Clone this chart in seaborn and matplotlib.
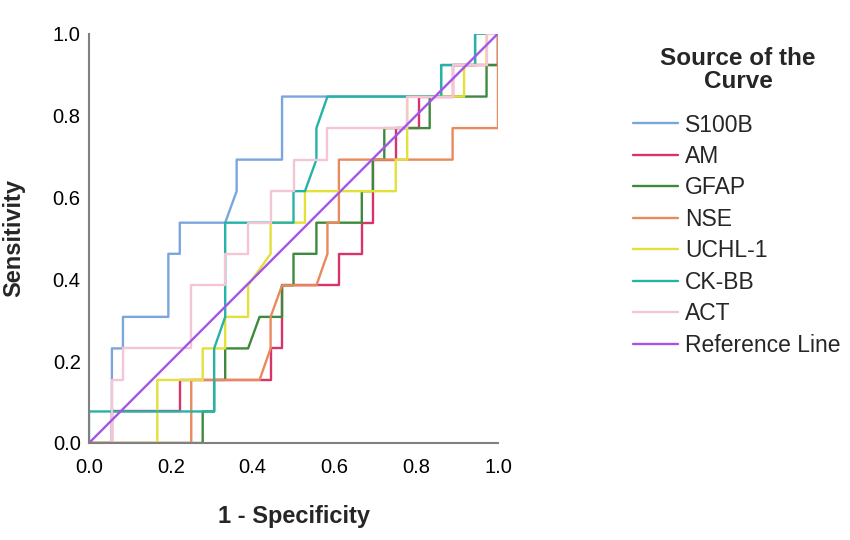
import numpy as np
import pandas as pd
import seaborn as sns
import matplotlib
matplotlib.use("Agg")
import matplotlib.pyplot as plt
from matplotlib.lines import Line2D

# ---- data (1 - specificity, sensitivity) ----
s100b_x = [0, .056, .056, .083, .083, .194, .194, .222, .222, .333, .361, .361, .472, .472, .861, .861, .944, .944, 1]
s100b_y = [0, 0, .231, .231, .308, .308, .462, .462, .538, .538, .615, .692, .692, .846, .846, .923, .923, 1, 1]

am_x = [0, .056, .056, .222, .222, .444, .444, .472, .472, .611, .611, .667, .667, .694, .694, .75, .75, .806, .806, .889, .889, 1, 1]
am_y = [0, 0, .077, .077, .154, .154, .231, .231, .385, .385, .462, .462, .538, .538, .692, .692, .769, .769, .846, .846, .923, .923, 1]

gfap_x = [0, .278, .278, .306, .306, .333, .333, .389, .417, .472, .472, .5, .5, .556, .556, .667, .667, .694, .694, .722, .722, .833, .833, .972, .972, 1, 1]
gfap_y = [0, 0, .077, .077, .154, .154, .231, .231, .308, .308, .385, .385, .462, .462, .538, .538, .615, .615, .692, .692, .769, .769, .846, .846, .923, .923, 1]

nse_x = [0, .25, .25, .417, .444, .444, .472, .556, .583, .583, .611, .611, .889, .889, 1, 1]
nse_y = [0, 0, .154, .154, .231, .308, .385, .385, .462, .538, .538, .692, .692, .769, .769, 1]

uchl_x = [0, .167, .167, .278, .278, .333, .333, .389, .389, .444, .444, .528, .528, .75, .75, .778, .778, .917, .917, .972, .972, 1]
uchl_y = [0, 0, .154, .154, .231, .231, .308, .308, .385, .462, .538, .538, .615, .615, .692, .692, .846, .846, .923, .923, 1, 1]

ckbb_x = [0, 0, .306, .306, .333, .333, .5, .5, .528, .556, .556, .583, .861, .861, .944, .944, 1]
ckbb_y = [0, .077, .077, .231, .308, .538, .538, .615, .615, .692, .769, .846, .846, .923, .923, 1, 1]

act_x = [0, .056, .056, .083, .083, .25, .25, .333, .333, .389, .389, .444, .444, .5, .5, .583, .583, .778, .778, .889, .889, .972, .972, 1]
act_y = [0, 0, .154, .154, .231, .231, .385, .385, .462, .462, .538, .538, .615, .615, .692, .692, .769, .769, .846, .846, .923, .923, 1, 1]

ref_x = [0, 1]
ref_y = [0, 1]

curve_names = ["S100B", "AM", "GFAP", "NSE", "UCHL-1", "CK-BB", "ACT", "Reference Line"]
colors = ["#7ba6dd", "#d8336b", "#3d8a3d", "#e88a5e", "#e4e03a", "#25b3a8", "#f5c4d5", "#a455e6"]
tick_values = [0.0, 0.2, 0.4, 0.6, 0.8, 1.0]
tick_labels = ["0.0", "0.2", "0.4", "0.6", "0.8", "1.0"]

series = {
    "S100B": (s100b_x, s100b_y),
    "AM": (am_x, am_y),
    "GFAP": (gfap_x, gfap_y),
    "NSE": (nse_x, nse_y),
    "UCHL-1": (uchl_x, uchl_y),
    "CK-BB": (ckbb_x, ckbb_y),
    "ACT": (act_x, act_y),
    "Reference Line": (ref_x, ref_y),
}

rows = []
for name in curve_names:
    xs, ys = series[name]
    for i, (a, b) in enumerate(zip(xs, ys)):
        rows.append({"curve": name, "order": i, "fpr": a, "tpr": b})
df = pd.DataFrame(rows)

sns.set_style("white")
plt.rcParams["font.family"] = ["Liberation Sans", "DejaVu Sans"]

fig = plt.figure(figsize=(8.5, 5.4), dpi=100)
ax = fig.add_axes([89 / 850, 1 - 443 / 540, 409 / 850, 409.5 / 540])

palette = dict(zip(curve_names, colors))
sns.lineplot(data=df, x="fpr", y="tpr", hue="curve", hue_order=curve_names,
             palette=palette, sort=False, estimator=None, linewidth=1.7,
             legend=False, ax=ax)

ax.set_xlim(0, 1)
ax.set_ylim(0, 1)
ax.set_xticks(tick_values)
ax.set_yticks(tick_values)
ax.set_xticklabels(tick_labels)
ax.set_yticklabels(tick_labels)
ax.tick_params(axis="both", length=0, labelsize=14.5, colors="black")
ax.tick_params(axis="x", pad=11)
ax.tick_params(axis="y", pad=6)

for side in ["top", "right"]:
    ax.spines[side].set_visible(False)
for side in ["left", "bottom"]:
    ax.spines[side].set_color("#808080")
    ax.spines[side].set_linewidth(1.5)
ax.grid(False)

ax.set_xlabel("1 - Specificity", fontsize=17, fontweight="bold", va="center")
ax.set_ylabel("Sensitivity", fontsize=17, fontweight="bold", va="center")
ax.xaxis.set_label_coords(0.5, (443 - 517) / 409.5)
ax.yaxis.set_label_coords((14 - 89) / 409, 0.5)

# legend title
fig.text(738 / 850, 1 - 70 / 540, "Source of the\nCurve", ha="center", va="center",
         fontsize=17.5, fontweight="bold", linespacing=0.95, multialignment="center")

handles = [Line2D([0], [0], color=c, linewidth=1.7) for c in colors]
leg = fig.legend(handles, curve_names, loc="upper left",
                 bbox_to_anchor=(633 / 850, 1 - 113.5 / 540),
                 frameon=False, fontsize=16.5,
                 handlelength=1.96, handletextpad=0.3, labelspacing=0.37,
                 borderpad=0, borderaxespad=0)

fig.savefig("out.png", dpi=100)
